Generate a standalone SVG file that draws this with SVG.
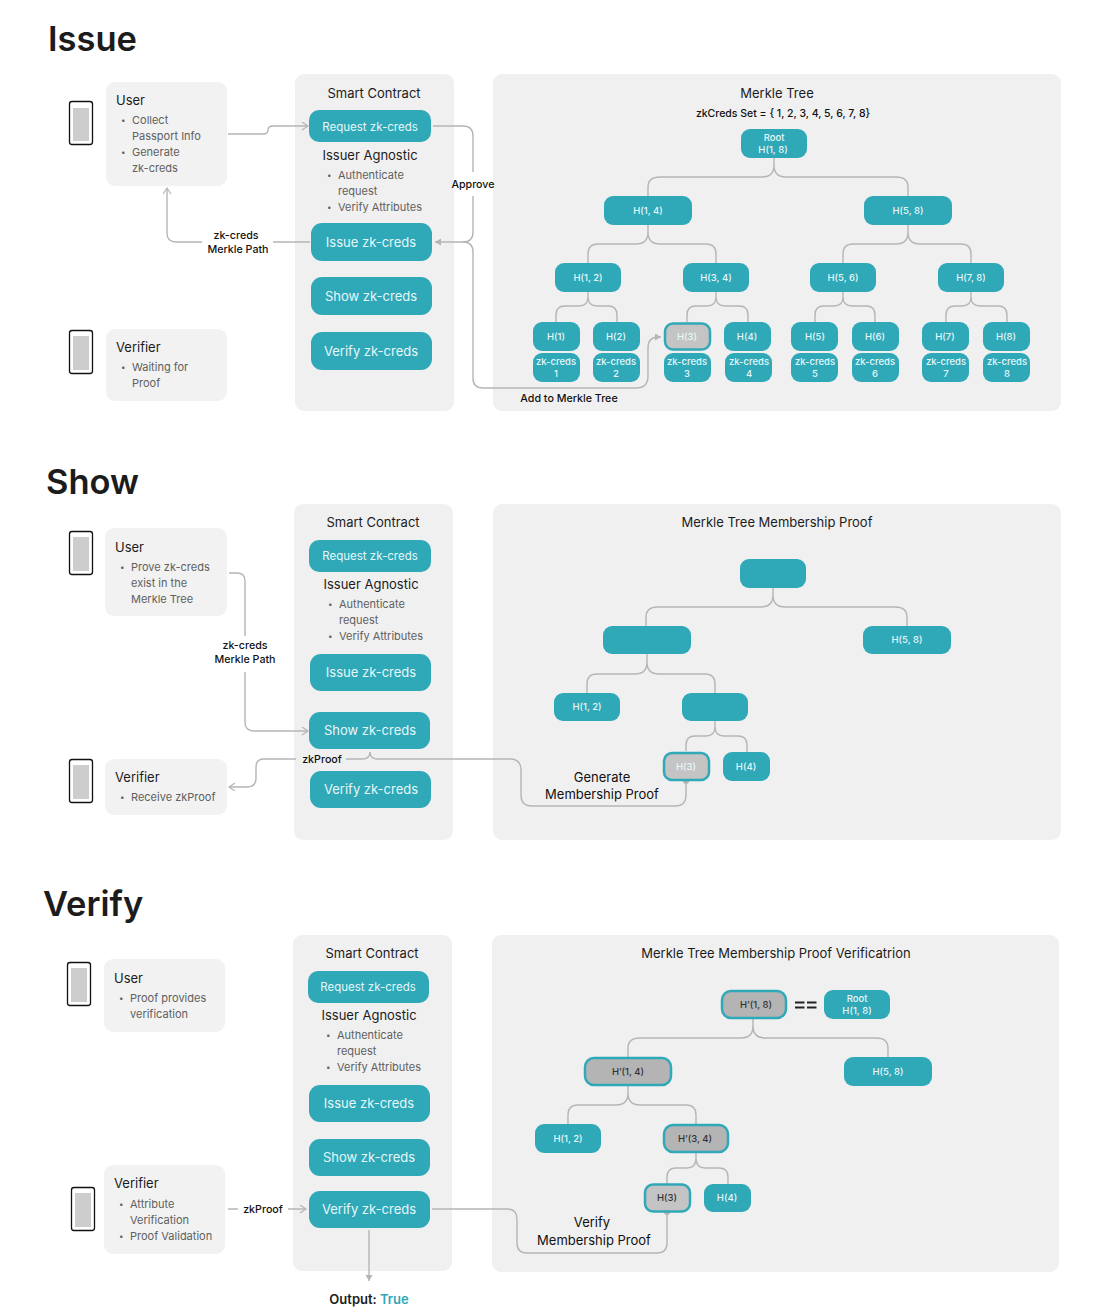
<svg xmlns="http://www.w3.org/2000/svg" width="1100" height="1314" viewBox="0 0 1100 1314">
<style>
text{font-family:"Inter","Noto Sans","Liberation Sans",sans-serif;fill:#1c1c1c}
.title{font-size:34.500px;font-weight:600}
.panel{fill:#f0f0f0}
.box{fill:#f2f2f2}
.btn{fill:#2fa8b8}
.gray{fill:#b4b4b4;stroke:#2fa8b8;stroke-width:2.500}
.lgray{fill:#c4c4c4;stroke:#2fa8b8;stroke-width:2.500}
.bt{fill:#e6f7f8;font-size:13px;font-weight:400;text-anchor:middle}
.rq{font-size:11.500px}
.nt{fill:#e6f7f8;font-size:9.500px;font-weight:500;text-anchor:middle}
.dt{fill:#333;font-size:9.500px;font-weight:500;text-anchor:middle}
.h{font-size:13px;font-weight:400}
.hc{font-size:13px;font-weight:400;text-anchor:middle}
.b{font-size:11px;fill:#606060}
.bu{font-size:8px;fill:#606060}
.l{font-size:10.700px;font-weight:500;text-anchor:middle;fill:#111}
.set{font-size:10.500px;font-weight:500;text-anchor:middle;fill:#111}
.lg{font-size:13px;font-weight:400;text-anchor:middle;fill:#111}
.phone{fill:#fff;stroke:#111;stroke-width:1.300}
.screen{fill:#cdcdcd}
.c{fill:none;stroke:#b5b5b5;stroke-width:1.400}
.fa{fill:#b5b5b5}
</style>
<defs>
<marker id="open" markerWidth="10" markerHeight="10" refX="7" refY="4" orient="auto" markerUnits="userSpaceOnUse"><path d="M1 0L7 4L1 8" fill="none" stroke="#b5b5b5" stroke-width="1.200"/></marker>
<marker id="solid" markerWidth="8" markerHeight="8" refX="6" refY="3.500" orient="auto" markerUnits="userSpaceOnUse"><path d="M0 0L6 3.500L0 7Z" fill="#b5b5b5"/></marker>
</defs>

<text class="title" x="48" y="51">Issue</text>
<text class="title" x="46" y="494">Show</text>
<text class="title" x="43" y="916">Verify</text>

<g id="panels">
<rect class="panel" x="295" y="74" width="159" height="337" rx="9"/>
<rect class="panel" x="493" y="74" width="568" height="337" rx="9"/>
<rect class="panel" x="294" y="504" width="159" height="336" rx="9"/>
<rect class="panel" x="493" y="504" width="568" height="336" rx="9"/>
<rect class="panel" x="293" y="935" width="159" height="336" rx="9"/>
<rect class="panel" x="492" y="935" width="567" height="337" rx="9"/>
</g>

<g id="connectors">
<path class="c" d="M228 134H263Q268 134 268 130Q268 126 273 126H308" marker-end="url(#open)"/>
<path class="c" d="M202 242H176Q167 242 167 233V188" marker-end="url(#open)"/>
<path class="c" d="M273 242H310"/>
<path class="c" d="M433 126H463Q473 126 473 136V172M473 196V232Q473 242 463 242H435" marker-end="url(#solid)"/>
<path class="c" d="M473 252Q473 242 463 242M473 252V378Q473 388 483 388H636Q648 388 648 376V348Q648 337 658 337H661" marker-end="url(#solid)"/>
<path class="c" d="M774 158V165Q774 177 762 177H660Q648 177 648 187V196M774 165Q774 177 786 177H896Q908 177 908 187V196"/>
<path class="c" d="M648 225V232Q648 244 636 244H598Q588 244 588 254V263M648 232Q648 244 660 244H706Q716 244 716 254V263"/>
<path class="c" d="M908 225V232Q908 244 896 244H853Q843 244 843 254V263M908 232Q908 244 920 244H961Q971 244 971 254V263"/>
<path class="c" d="M588 292V297Q588 306 579 306H565Q556 306 556 315V322M588 297Q588 306 597 306H608Q617 306 617 315V322"/>
<path class="c" d="M716 292V297Q716 306 707 306H696Q687 306 687 315V322M716 297Q716 306 725 306H739Q748 306 748 315V322"/>
<path class="c" d="M843 292V297Q843 306 834 306H824Q815 306 815 315V322M843 297Q843 306 852 306H866Q875 306 875 315V322"/>
<path class="c" d="M971 292V297Q971 306 962 306H955Q946 306 946 315V322M971 297Q971 306 980 306H998Q1007 306 1007 315V322"/>
<path class="c" d="M229 573H237Q245 573 245 581V636M245 672V722Q245 731 254 731H308" marker-end="url(#open)"/>
<path class="c" d="M296 759H264Q256 759 256 767V778Q256 787 247 787H229" marker-end="url(#open)"/>
<path class="c" d="M346 759H362Q370 759 370 752Q370 759 378 759H510Q521 759 521 770V795Q521 806 532 806H675Q686 806 686 795V781"/>
<circle class="fa" cx="686" cy="781" r="3"/>
<path class="c" d="M773 588V595Q773 607 761 607H658Q646 607 646 617V626M773 595Q773 607 785 607H895Q907 607 907 617V626"/>
<path class="c" d="M647 654V662Q647 674 635 674H597Q587 674 587 684V693M647 662Q647 674 659 674H705Q715 674 715 684V693"/>
<path class="c" d="M715 721V727Q715 736 706 736H695Q686 736 686 745V751M715 727Q715 736 724 736H738Q747 736 747 745V752"/>
<path class="c" d="M228 1209H238M288 1209H306" marker-end="url(#open)"/>
<path class="c" d="M432 1209H507Q517 1209 517 1219V1243Q517 1253 527 1253H657Q667 1253 667 1243V1212"/>
<circle class="fa" cx="667" cy="1212" r="3"/>
<path class="c" d="M369 1230V1281" marker-end="url(#solid)"/>
<path class="c" d="M753 1019V1026Q753 1038 741 1038H640Q628 1038 628 1048V1057M753 1026Q753 1038 765 1038H876Q888 1038 888 1048V1057"/>
<path class="c" d="M628 1085V1093Q628 1105 616 1105H578Q568 1105 568 1115V1124M628 1093Q628 1105 640 1105H686Q696 1105 696 1115V1124"/>
<path class="c" d="M696 1152V1158Q696 1168 687 1168H676Q667 1168 667 1177V1184M696 1158Q696 1168 705 1168H719Q728 1168 728 1177V1184"/>
</g>

<g id="issue-phone-user"><rect class="phone" x="69.500" y="101.500" width="23" height="43" rx="2.500"/><rect class="screen" x="73" y="108" width="16" height="33"/></g>
<g id="issue-phone-verifier"><rect class="phone" x="69.500" y="330.500" width="23" height="43" rx="2.500"/><rect class="screen" x="73" y="336" width="16" height="34"/></g>
<g id="issue-user"><rect class="box" x="106" y="82" width="121" height="104" rx="9"/>
<text class="h" x="116" y="105">User</text>
<text class="bu" x="121" y="123">•</text><text class="b" x="132" y="124">Collect</text><text class="b" x="132" y="140">Passport Info</text>
<text class="bu" x="121" y="155">•</text><text class="b" x="132" y="156">Generate</text><text class="b" x="132" y="172">zk-creds</text></g>
<g id="issue-verifier"><rect class="box" x="106" y="329" width="121" height="72" rx="9"/>
<text class="h" x="116" y="352">Verifier</text>
<text class="bu" x="121" y="370">•</text><text class="b" x="132" y="371">Waiting for</text><text class="b" x="132" y="387">Proof</text></g>
<g id="issue-contract">
<text class="hc" x="374" y="97.500">Smart Contract</text>
<text class="hc" x="370" y="160">Issuer Agnostic</text>
<text class="bu" x="327" y="178">•</text><text class="b" x="338" y="179">Authenticate</text><text class="b" x="338" y="195">request</text>
<text class="bu" x="327" y="210">•</text><text class="b" x="338" y="211">Verify Attributes</text>
</g>
<g id="issue-request"><rect class="btn" x="309" y="110" width="122" height="32" rx="10"/><text class="bt rq" x="370" y="130.500">Request zk-creds</text></g>
<g id="issue-issue"><rect class="btn" x="311" y="223" width="121" height="38" rx="11"/><text class="bt" x="371" y="247">Issue zk-creds</text></g>
<g id="issue-show"><rect class="btn" x="311" y="277" width="121" height="38" rx="11"/><text class="bt" x="371" y="301">Show zk-creds</text></g>
<g id="issue-verify"><rect class="btn" x="311" y="332" width="121" height="38" rx="11"/><text class="bt" x="371" y="356">Verify zk-creds</text></g>
<g id="issue-labels">
<text class="l" x="236" y="239">zk-creds</text><text class="l" x="238" y="253">Merkle Path</text>
<text class="l" x="473" y="188">Approve</text>
<text class="l" x="569" y="402">Add to Merkle Tree</text>
<text class="hc" x="777" y="97.500">Merkle Tree</text>
<text class="set" x="783" y="116.500">zkCreds Set = { 1, 2, 3, 4, 5, 6, 7, 8}</text>
</g>
<g id="i-root"><rect class="btn" x="741" y="129" width="66" height="29" rx="9"/><text class="nt" x="774" y="141">Root</text><text class="nt" x="773" y="153">H(1, 8)</text></g>
<g id="i-h14"><rect class="btn" x="604" y="196" width="88" height="29" rx="9"/><text class="nt" x="648" y="214">H(1, 4)</text></g>
<g id="i-h58"><rect class="btn" x="864" y="196" width="88" height="29" rx="9"/><text class="nt" x="908" y="214">H(5, 8)</text></g>
<g id="i-h12"><rect class="btn" x="555" y="263" width="66" height="29" rx="9"/><text class="nt" x="588" y="281">H(1, 2)</text></g>
<g id="i-h34"><rect class="btn" x="683" y="263" width="66" height="29" rx="9"/><text class="nt" x="716" y="281">H(3, 4)</text></g>
<g id="i-h56"><rect class="btn" x="810" y="263" width="66" height="29" rx="9"/><text class="nt" x="843" y="281">H(5, 6)</text></g>
<g id="i-h78"><rect class="btn" x="938" y="263" width="66" height="29" rx="9"/><text class="nt" x="971" y="281">H(7, 8)</text></g>
<g id="i-h1"><rect class="btn" x="533" y="322" width="47" height="29" rx="9"/><text class="nt" x="556" y="340">H(1)</text></g>
<g id="i-h2"><rect class="btn" x="593" y="322" width="47" height="29" rx="9"/><text class="nt" x="616" y="340">H(2)</text></g>
<g id="i-h3"><rect class="lgray" x="665" y="323.500" width="45" height="26" rx="8"/><text class="nt" x="687" y="340">H(3)</text></g>
<g id="i-h4"><rect class="btn" x="724" y="322" width="47" height="29" rx="9"/><text class="nt" x="747" y="340">H(4)</text></g>
<g id="i-h5"><rect class="btn" x="791" y="322" width="47" height="29" rx="9"/><text class="nt" x="815" y="340">H(5)</text></g>
<g id="i-h6"><rect class="btn" x="852" y="322" width="47" height="29" rx="9"/><text class="nt" x="875" y="340">H(6)</text></g>
<g id="i-h7"><rect class="btn" x="922" y="322" width="47" height="29" rx="9"/><text class="nt" x="945" y="340">H(7)</text></g>
<g id="i-h8"><rect class="btn" x="983" y="322" width="47" height="29" rx="9"/><text class="nt" x="1006" y="340">H(8)</text></g>
<g id="i-z1"><rect class="btn" x="533" y="353" width="47" height="29" rx="9"/><text class="nt" x="556" y="365">zk-creds</text><text class="nt" x="556" y="377">1</text></g>
<g id="i-z2"><rect class="btn" x="593" y="353" width="47" height="29" rx="9"/><text class="nt" x="616" y="365">zk-creds</text><text class="nt" x="616" y="377">2</text></g>
<g id="i-z3"><rect class="btn" x="664" y="353" width="47" height="29" rx="9"/><text class="nt" x="687" y="365">zk-creds</text><text class="nt" x="687" y="377">3</text></g>
<g id="i-z4"><rect class="btn" x="725" y="353" width="47" height="29" rx="9"/><text class="nt" x="749" y="365">zk-creds</text><text class="nt" x="749" y="377">4</text></g>
<g id="i-z5"><rect class="btn" x="791" y="353" width="47" height="29" rx="9"/><text class="nt" x="815" y="365">zk-creds</text><text class="nt" x="815" y="377">5</text></g>
<g id="i-z6"><rect class="btn" x="852" y="353" width="47" height="29" rx="9"/><text class="nt" x="875" y="365">zk-creds</text><text class="nt" x="875" y="377">6</text></g>
<g id="i-z7"><rect class="btn" x="922" y="353" width="47" height="29" rx="9"/><text class="nt" x="946" y="365">zk-creds</text><text class="nt" x="946" y="377">7</text></g>
<g id="i-z8"><rect class="btn" x="983" y="353" width="47" height="29" rx="9"/><text class="nt" x="1007" y="365">zk-creds</text><text class="nt" x="1007" y="377">8</text></g>

<g id="show-phone-user"><rect class="phone" x="69.500" y="531.500" width="23" height="43" rx="2.500"/><rect class="screen" x="73" y="537" width="16" height="34"/></g>
<g id="show-phone-verifier"><rect class="phone" x="69.500" y="759.500" width="23" height="43" rx="2.500"/><rect class="screen" x="73" y="765" width="16" height="34"/></g>
<g id="show-user"><rect class="box" x="105" y="528" width="122" height="88" rx="9"/>
<text class="h" x="115" y="552">User</text>
<text class="bu" x="120" y="570">•</text><text class="b" x="131" y="571">Prove zk-creds</text><text class="b" x="131" y="587">exist in the</text><text class="b" x="131" y="603">Merkle Tree</text></g>
<g id="show-verifier"><rect class="box" x="105" y="759" width="122" height="56" rx="9"/>
<text class="h" x="115" y="782">Verifier</text>
<text class="bu" x="120" y="800">•</text><text class="b" x="131" y="801">Receive zkProof</text></g>
<g id="show-contract">
<text class="hc" x="373" y="527">Smart Contract</text>
<text class="hc" x="371" y="589">Issuer Agnostic</text>
<text class="bu" x="328" y="607">•</text><text class="b" x="339" y="608">Authenticate</text><text class="b" x="339" y="624">request</text>
<text class="bu" x="328" y="639">•</text><text class="b" x="339" y="640">Verify Attributes</text>
</g>
<g id="show-request"><rect class="btn" x="309" y="540" width="122" height="32" rx="10"/><text class="bt rq" x="370" y="560">Request zk-creds</text></g>
<g id="show-issue"><rect class="btn" x="310" y="654" width="121" height="37" rx="11"/><text class="bt" x="371" y="677">Issue zk-creds</text></g>
<g id="show-show"><rect class="btn" x="309" y="712" width="121" height="37" rx="11"/><text class="bt" x="370" y="735">Show zk-creds</text></g>
<g id="show-verify"><rect class="btn" x="310" y="771" width="121" height="37" rx="11"/><text class="bt" x="371" y="794">Verify zk-creds</text></g>
<g id="show-labels">
<text class="l" x="245" y="649">zk-creds</text><text class="l" x="245" y="663">Merkle Path</text>
<text class="l" x="322" y="763">zkProof</text>
<text class="lg" x="602" y="782">Generate</text><text class="lg" x="602" y="799">Membership Proof</text>
<text class="hc" x="777" y="527">Merkle Tree Membership Proof</text>
</g>
<g id="s-root"><rect class="btn" x="740" y="559" width="66" height="29" rx="9"/></g>
<g id="s-h14"><rect class="btn" x="603" y="626" width="88" height="28" rx="9"/></g>
<g id="s-h58"><rect class="btn" x="863" y="626" width="88" height="28" rx="9"/><text class="nt" x="907" y="643">H(5, 8)</text></g>
<g id="s-h12"><rect class="btn" x="554" y="693" width="66" height="28" rx="9"/><text class="nt" x="587" y="710">H(1, 2)</text></g>
<g id="s-h34"><rect class="btn" x="682" y="693" width="66" height="28" rx="9"/></g>
<g id="s-h3"><rect class="lgray" x="664" y="753" width="45" height="27" rx="8"/><text class="nt" x="686" y="770">H(3)</text></g>
<g id="s-h4"><rect class="btn" x="723" y="752" width="47" height="29" rx="9"/><text class="nt" x="746" y="770">H(4)</text></g>

<g id="verify-phone-user"><rect class="phone" x="67.500" y="962.500" width="23" height="43" rx="2.500"/><rect class="screen" x="71" y="968" width="16" height="34"/></g>
<g id="verify-phone-verifier"><rect class="phone" x="71.500" y="1187.500" width="23" height="43" rx="2.500"/><rect class="screen" x="75" y="1193" width="16" height="34"/></g>
<g id="verify-user"><rect class="box" x="104" y="959" width="121" height="73" rx="9"/>
<text class="h" x="114" y="983">User</text>
<text class="bu" x="119" y="1001">•</text><text class="b" x="130" y="1002">Proof provides</text><text class="b" x="130" y="1018">verification</text></g>
<g id="verify-verifier"><rect class="box" x="104" y="1165" width="121" height="89" rx="9"/>
<text class="h" x="114" y="1188">Verifier</text>
<text class="bu" x="119" y="1207">•</text><text class="b" x="130" y="1208">Attribute</text><text class="b" x="130" y="1224">Verification</text>
<text class="bu" x="119" y="1239">•</text><text class="b" x="130" y="1240">Proof Validation</text></g>
<g id="verify-contract">
<text class="hc" x="372" y="958">Smart Contract</text>
<text class="hc" x="369" y="1020">Issuer Agnostic</text>
<text class="bu" x="326" y="1038">•</text><text class="b" x="337" y="1039">Authenticate</text><text class="b" x="337" y="1055">request</text>
<text class="bu" x="326" y="1070">•</text><text class="b" x="337" y="1071">Verify Attributes</text>
</g>
<g id="verify-request"><rect class="btn" x="308" y="971" width="121" height="32" rx="10"/><text class="bt rq" x="368" y="991">Request zk-creds</text></g>
<g id="verify-issue"><rect class="btn" x="309" y="1085" width="121" height="37" rx="11"/><text class="bt" x="369" y="1108">Issue zk-creds</text></g>
<g id="verify-show"><rect class="btn" x="309" y="1139" width="121" height="37" rx="11"/><text class="bt" x="369" y="1162">Show zk-creds</text></g>
<g id="verify-verify"><rect class="btn" x="309" y="1191" width="121" height="37" rx="11"/><text class="bt" x="369" y="1214">Verify zk-creds</text></g>
<g id="verify-labels">
<text class="l" x="263" y="1213">zkProof</text>
<text class="lg" x="592" y="1227">Verify</text><text class="lg" x="594" y="1245">Membership Proof</text>
<text class="hc" x="776" y="958">Merkle Tree Membership Proof Verificatrion</text>
<text x="369" y="1304" style="font-size:13px;font-weight:600;text-anchor:middle">Output: <tspan style="fill:#2fa8b8">True</tspan></text>
</g>
<g id="v-h18"><rect class="gray" x="722" y="991" width="64" height="27" rx="9"/><text class="dt" x="756" y="1008">H’(1, 8)</text></g>
<g id="v-eq"><path d="M795 1002.500h9.500M795 1007.500h9.500M807 1002.500h9.500M807 1007.500h9.500" stroke="#222" stroke-width="2" fill="none"/></g>
<g id="v-root"><rect class="btn" x="824" y="990" width="66" height="29" rx="9"/><text class="nt" x="857" y="1002">Root</text><text class="nt" x="857" y="1014">H(1, 8)</text></g>
<g id="v-h14"><rect class="gray" x="585" y="1058" width="86" height="27" rx="9"/><text class="dt" x="628" y="1075">H’(1, 4)</text></g>
<g id="v-h58"><rect class="btn" x="844" y="1057" width="88" height="29" rx="9"/><text class="nt" x="888" y="1075">H(5, 8)</text></g>
<g id="v-h12"><rect class="btn" x="535" y="1124" width="66" height="29" rx="9"/><text class="nt" x="568" y="1142">H(1, 2)</text></g>
<g id="v-h34"><rect class="gray" x="664" y="1125" width="64" height="27" rx="9"/><text class="dt" x="695" y="1142">H’(3, 4)</text></g>
<g id="v-h3"><rect class="lgray" x="645" y="1184.500" width="45" height="27" rx="8"/><text class="dt" x="667" y="1201">H(3)</text></g>
<g id="v-h4"><rect class="btn" x="704" y="1184" width="47" height="28" rx="9"/><text class="nt" x="727" y="1201">H(4)</text></g>
</svg>
